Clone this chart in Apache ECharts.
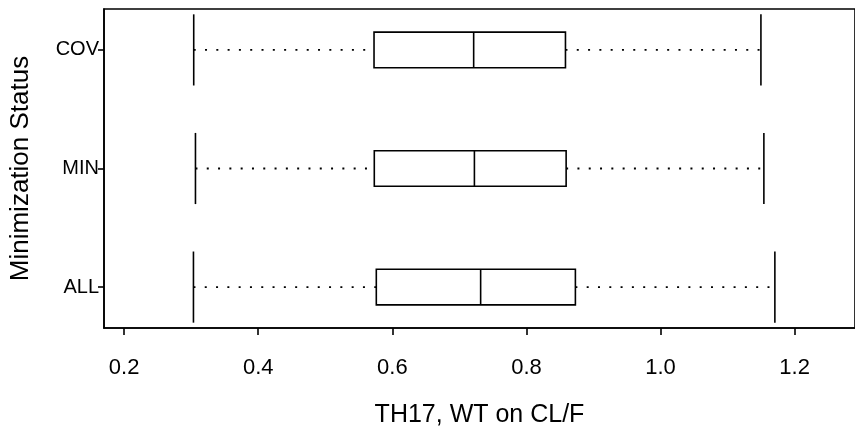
<!DOCTYPE html>
<html>
<head>
<meta charset="utf-8">
<script src="https://cdn.jsdelivr.net/npm/echarts@6/dist/echarts.min.js"></script>
<style>
  html, body { margin: 0; padding: 0; background: #fff; }
  #main { width: 855px; height: 434px; }
</style>
</head>
<body>
<div id="main"></div>
<script>
// box stats per group (R style: whisker ends, hinges, median)
var categories = ['ALL', 'MIN', 'COV'];
var positions = [1, 2, 3];
var whiskerLow = [0.3034, 0.3064, 0.3038];
var q1 = [0.5761, 0.5731, 0.5727];
var median = [0.7317, 0.7224, 0.7213];
var q3 = [0.8730, 0.8592, 0.8582];
var whiskerHigh = [1.1705, 1.1541, 1.1497];
var xTicks = [0.2, 0.4, 0.6, 0.8, 1.0, 1.2];
var xTickLabels = ['0.2', '0.4', '0.6', '0.8', '1.0', '1.2'];

var boxData = positions.map(function (p, i) {
    return [p, whiskerLow[i], q1[i], median[i], q3[i], whiskerHigh[i]];
});

var BOX_HALF = 0.15;
var STAPLE_HALF = 0.30;
var FONT = '"Liberation Sans", Arial, sans-serif';

function renderBox(params, api) {
    var y = api.value(0);
    var lo = api.value(1), a = api.value(2), m = api.value(3), b = api.value(4), hi = api.value(5);
    var solid = { stroke: '#000', lineWidth: 1.6, fill: null };
    var dotted = { stroke: '#000', lineWidth: 1.8, lineDash: [2, 9.3] };
    function seg(x1, y1, x2, y2, style) {
        var p1 = api.coord([x1, y1]), p2 = api.coord([x2, y2]);
        return { type: 'line', shape: { x1: p1[0], y1: p1[1], x2: p2[0], y2: p2[1] }, style: style };
    }
    var tl = api.coord([a, y + BOX_HALF]);
    var br = api.coord([b, y - BOX_HALF]);
    return {
        type: 'group',
        children: [
            seg(lo, y, a, y, dotted),
            seg(b, y, hi, y, dotted),
            seg(lo, y - STAPLE_HALF, lo, y + STAPLE_HALF, solid),
            seg(hi, y - STAPLE_HALF, hi, y + STAPLE_HALF, solid),
            { type: 'rect', shape: { x: tl[0], y: tl[1], width: br[0] - tl[0], height: br[1] - tl[1] }, style: solid },
            seg(m, y - BOX_HALF, m, y + BOX_HALF, solid)
        ]
    };
}

var chart = echarts.init(document.getElementById('main'));
var option = {
    animation: false,
    backgroundColor: '#fff',
    grid: {
        left: 104, right: -5, top: 9, bottom: 106,
        show: true, borderColor: '#000', borderWidth: 1.6, backgroundColor: 'transparent'
    },
    xAxis: {
        type: 'value',
        min: 0.17,
        max: 1.29,
        name: 'TH17, WT on CL/F',
        nameLocation: 'middle',
        nameGap: 75,
        nameTextStyle: { color: '#000', fontSize: 25, fontFamily: FONT },
        splitLine: { show: false },
        axisLine: { show: true, lineStyle: { color: '#000', width: 1.6 } },
        axisTick: { show: true, length: 7, customValues: xTicks, lineStyle: { color: '#000', width: 1.6 } },
        axisLabel: {
            customValues: xTicks,
            margin: 29,
            color: '#000', fontSize: 22, fontFamily: FONT,
            formatter: function (v) {
                var i = xTicks.findIndex(function (t) { return Math.abs(t - v) < 1e-6; });
                return i >= 0 ? xTickLabels[i] : '';
            }
        }
    },
    yAxis: {
        type: 'value',
        min: 0.655,
        max: 3.345,
        name: 'Minimization Status',
        nameLocation: 'middle',
        nameGap: 70,
        nameTextStyle: { color: '#000', fontSize: 26, fontFamily: FONT },
        splitLine: { show: false },
        axisLine: { show: true, lineStyle: { color: '#000', width: 1.6 } },
        axisTick: { show: true, length: 6, customValues: positions, lineStyle: { color: '#000', width: 1.6 } },
        axisLabel: {
            customValues: positions,
            margin: 5,
            color: '#000', fontSize: 20, fontFamily: FONT,
            formatter: function (v) {
                var i = positions.indexOf(Math.round(v));
                return i >= 0 ? categories[i] : '';
            }
        }
    },
    series: [{
        type: 'custom',
        renderItem: renderBox,
        encode: { x: [1, 2, 3, 4, 5], y: 0 },
        data: boxData
    }]
};
chart.setOption(option);
</script>
</body>
</html>
